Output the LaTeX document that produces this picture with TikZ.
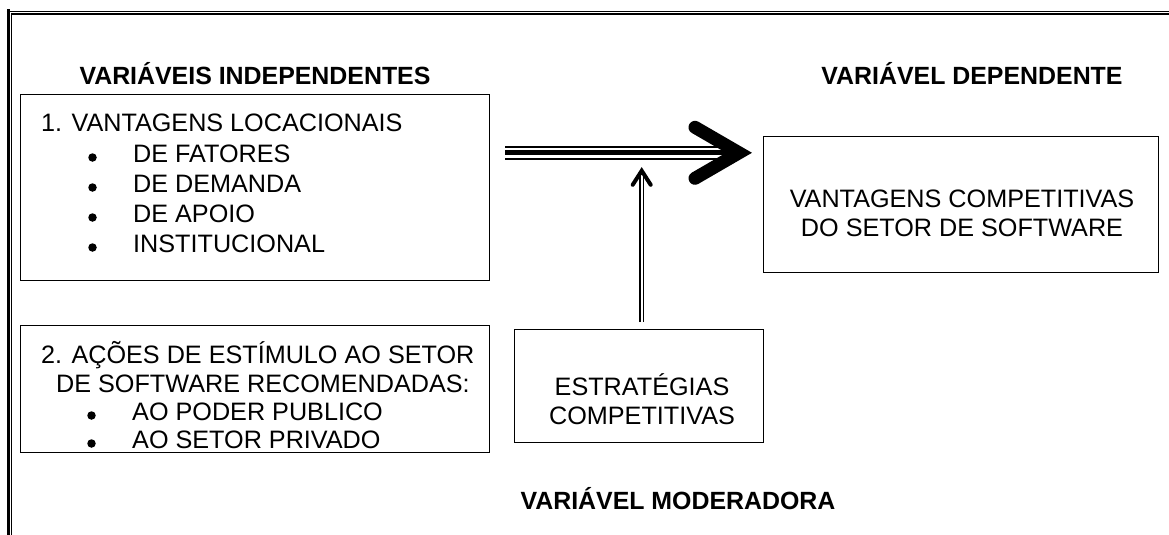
\documentclass[tikz,border=0pt]{standalone}
\usepackage{fontspec}
\setmainfont{Liberation Sans}
\usetikzlibrary{positioning,calc}
\tikzset{%
  every box/.style={
    draw,
    line width=1.4pt,
    inner sep=0pt,
    anchor=north west
  },
  bullet dot/.style={
    circle,
    fill=black,
    inner sep=0pt,
    minimum size=8.5pt
  },
}

\begin{document}
\begin{tikzpicture}[x=1pt,y=-1pt,font=\fontsize{25.2}{29}\selectfont]
        \tikzstyle{line}=[inner sep=0pt,anchor=base west]
        \tikzstyle{title}=[inner sep=0pt,anchor=base,font=\fontsize{24.9}{29}\selectfont\bfseries]
        \tikzstyle{chevron}=[line cap=round,line join=miter]

        \useasboundingbox (0,0) rectangle (1169,535);

        % moldura da pagina
        \draw[line width=3.5pt] (8.5,9.5) -- (8.5,535);
        \draw[line width=1.2pt] (6.75,11.5) -- (1169,11.5);
        \draw[line width=1.2pt] (11.8,12.8) -- (11.8,535);
        \draw[line width=2.8pt] (11.2,14) -- (1169,14);

        \node[title] (indep) at (255,84) {VARIÁVEIS INDEPENDENTES};
        \node[title] (dep) at (972,84) {VARIÁVEL DEPENDENTE};
        \node[title] (moder) at (678,509) {VARIÁVEL MODERADORA};

        \node[every box,minimum width=469pt,minimum height=186pt] (locac) at (20,94) {};
        \node[every box,minimum width=469pt,minimum height=127pt] (acoes) at (20,325) {};
        \node[every box,minimum width=249pt,minimum height=113pt] (estrat) at (514,329) {};
        \node[every box,minimum width=395pt,minimum height=136pt] (vantcomp) at (763,136) {};

        \node[line] (loc0) at (41,131) {1. VANTAGENS LOCACIONAIS};
        \foreach \t [count=\i] in {DE FATORES,DE DEMANDA,DE APOIO,INSTITUCIONAL} {
          \node[line] (loc\i) at (133,132+30*\i) {\t};
          \node[bullet dot] (locdot\i) at (92.5,127.5+30*\i) {};
        }

        \node[line] (ac0) at (41,363) {2. AÇÕES DE ESTÍMULO AO SETOR};
        \node[line] (ac00) at (56,392) {DE SOFTWARE RECOMENDADAS:};
        \foreach \t [count=\i] in {AO PODER PUBLICO,AO SETOR PRIVADO} {
          \node[line] (ac\i) at (132,392+28*\i) {\t};
          \node[bullet dot] (acdot\i) at (91.5,387.5+28*\i) {};
        }

        \node[inner sep=0pt,anchor=base,align=center] (estrtxt) at (642,424) {ESTRATÉGIAS\\COMPETITIVAS};
        \node[inner sep=0pt,anchor=base,align=center] (vanttxt) at (962,236) {VANTAGENS COMPETITIVAS\\DO SETOR DE SOFTWARE};

        % seta principal (tripla)
        \coordinate (start) at (505,152.8);
        \coordinate (tip) at ($(vantcomp.west |- start)+(-24,0)$);
        \draw[line width=2.5pt] ([yshift=5.8pt]start) -- ([yshift=5.8pt,xshift=-15pt]tip);
        \draw[line width=5pt] (start) -- ([xshift=-10pt]tip);
        \draw[line width=2.3pt] ([yshift=-6pt]start) -- ([yshift=-6pt,xshift=-15pt]tip);
        \draw[chevron,line width=13pt] ($(tip)+(-44,-25.5)$) -- (tip) -- ($(tip)+(-44,25.5)$);

        % seta da variavel moderadora
        \coordinate (vtip) at ($(estrat.north |- start)+(2.5,18)$);
        \draw[double,double distance=1.7pt,line width=1.5pt] ($(estrat.north)+(2.5,-7)$) -- ([yshift=-3pt]vtip);
        \draw[chevron,line width=4pt] ($(vtip)+(-9,14)$) -- (vtip) -- ($(vtip)+(9,14)$);
\end{tikzpicture}
\end{document}
